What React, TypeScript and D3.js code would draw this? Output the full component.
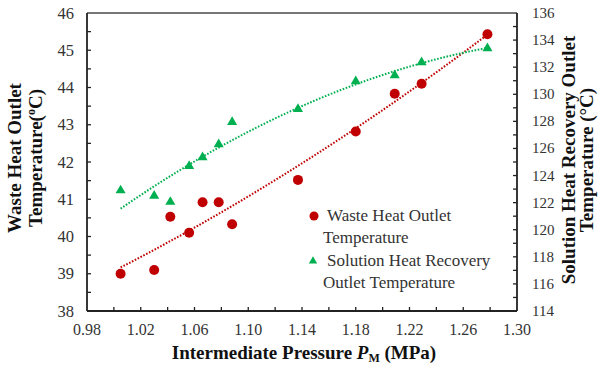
import { useEffect, useRef } from "react";
import * as d3 from "d3";

// intermediate pressure (MPa)
const pressure = [1.005, 1.03, 1.042, 1.056, 1.066, 1.078, 1.088, 1.137, 1.18, 1.209, 1.229, 1.278];
// waste heat outlet temperature (left axis)
const wasteTemp = [39.0, 39.1, 40.53, 40.1, 40.92, 40.92, 40.33, 41.52, 42.82, 43.83, 44.1, 45.43];
// solution heat recovery outlet temperature (right axis)
const solutionTemp = [122.9, 122.5, 122.05, 124.7, 125.35, 126.3, 127.95, 128.9, 130.95, 131.4, 132.35, 133.4];

const xTickLabels = ["0.98", "1.02", "1.06", "1.10", "1.14", "1.18", "1.22", "1.26", "1.30"];
const leftTickLabels = ["38", "39", "40", "41", "42", "43", "44", "45", "46"];
const rightTickLabels = ["114", "116", "118", "120", "122", "124", "126", "128", "130", "132", "134", "136"];

const RED = "#C00000";
const GREEN = "#00B050";
const FONT = "'Liberation Serif', 'Times New Roman', serif";

// least squares 2nd order polynomial, like the spreadsheet trendline
function quadFit(xs: number[], ys: number[]) {
  const mx = d3.mean(xs)!;
  const s = [0, 0, 0, 0, 0];
  const t = [0, 0, 0];
  xs.forEach((x0, i) => {
    const x = x0 - mx;
    for (let k = 0; k < 5; k++) s[k] += Math.pow(x, k);
    for (let k = 0; k < 3; k++) t[k] += Math.pow(x, k) * ys[i];
  });
  const m = [
    [s[0], s[1], s[2], t[0]],
    [s[1], s[2], s[3], t[1]],
    [s[2], s[3], s[4], t[2]],
  ];
  for (let i = 0; i < 3; i++) {
    for (let j = i + 1; j < 3; j++) {
      const f = m[j][i] / m[i][i];
      for (let k = i; k < 4; k++) m[j][k] -= f * m[i][k];
    }
  }
  const c = [0, 0, 0];
  for (let i = 2; i >= 0; i--) {
    let v = m[i][3];
    for (let k = i + 1; k < 3; k++) v -= m[i][k] * c[k];
    c[i] = v / m[i][i];
  }
  return (x: number) => c[0] + c[1] * (x - mx) + c[2] * (x - mx) * (x - mx);
}

export default function App() {
  const ref = useRef<SVGSVGElement>(null);
  const left = 87, right = 517, top = 13, bottom = 311;

  const x = d3.scaleLinear().domain([0.98, 1.3]).range([left, right]);
  const yL = d3.scaleLinear().domain([38, 46]).range([bottom, top]);
  const yR = d3.scaleLinear().domain([114, 136]).range([bottom, top]);

  useEffect(() => {
    const g = d3.select(ref.current).select(".trend");
    const x0 = pressure[0], x1 = pressure[pressure.length - 1];
    const xs = d3.range(0, 101).map((i) => x0 + (i / 100) * (x1 - x0));

    const fW = quadFit(pressure, wasteTemp);
    const fS = quadFit(pressure, solutionTemp);
    const line = d3.line<number[]>().x((d) => d[0]).y((d) => d[1]);

    g.selectAll("*").remove();
    g.append("path")
      .attr("d", line(xs.map((v) => [x(v), yL(fW(v))])))
      .attr("fill", "none").attr("stroke", RED).attr("stroke-width", 2)
      .attr("stroke-dasharray", "1.6 1.6");
    g.append("path")
      .attr("d", line(xs.map((v) => [x(v), yR(fS(v))])))
      .attr("fill", "none").attr("stroke", GREEN).attr("stroke-width", 2)
      .attr("stroke-dasharray", "1.6 1.6");
  }, []);

  const tri = d3.symbol().type(d3.symbolTriangle).size(44);

  return (
    <svg ref={ref} width={602} height={367}
      style={{ position: "absolute", left: 0, top: 0, background: "#fff", fontFamily: FONT }}>
      <g className="trend" />

      {pressure.map((p, i) => (
        <circle key={"w" + i} cx={x(p)} cy={yL(wasteTemp[i])} r={5} fill={RED} />
      ))}
      {pressure.map((p, i) => (
        <path key={"s" + i} d={tri()!} transform={`translate(${x(p)},${yR(solutionTemp[i])})`} fill={GREEN} />
      ))}

      {/* frame */}
      <line x1={left} x2={right} y1={top} y2={top} stroke="#777" strokeWidth={2} />
      <line x1={left} x2={right} y1={bottom} y2={bottom} stroke="#222" strokeWidth={1.8} />
      <line x1={left} x2={left} y1={top} y2={bottom} stroke="#222" strokeWidth={1.8} />
      <line x1={right} x2={right} y1={top} y2={bottom} stroke="#222" strokeWidth={1.8} />

      {/* x ticks */}
      {d3.range(1.0, 1.29, 0.02).map((v) => (
        <line key={"xt" + v} x1={x(v)} x2={x(v)} y1={bottom} y2={bottom - 4} stroke="#222" strokeWidth={1.3} />
      ))}
      {xTickLabels.map((t) => (
        <text key={"xl" + t} x={x(+t)} y={335} textAnchor="middle" fontSize={16} fill="#333">{t}</text>
      ))}

      {/* left ticks */}
      {d3.range(38.5, 46, 0.5).map((v) => (
        <line key={"lt" + v} x1={left} x2={left + 4} y1={yL(v)} y2={yL(v)} stroke="#222" strokeWidth={1.3} />
      ))}
      {leftTickLabels.map((t) => (
        <text key={"ll" + t} x={74} y={yL(+t) + 5.5} textAnchor="end" fontSize={16.5} fill="#333">{t}</text>
      ))}

      {/* right ticks */}
      {d3.range(115, 136, 1).map((v) => (
        <line key={"rt" + v} x1={right} x2={right - 4} y1={yR(v)} y2={yR(v)} stroke="#222" strokeWidth={1.3} />
      ))}
      {rightTickLabels.map((t) => (
        <text key={"rl" + t} x={532} y={yR(+t) + 5} textAnchor="start" fontSize={15} fill="#333">{t}</text>
      ))}

      {/* axis titles */}
      <text transform="translate(21,158) rotate(-90)" textAnchor="middle" fontSize={19} fontWeight="bold" fill="#111">
        <tspan x={0} dy={0}>Waste Heat Outlet</tspan>
        <tspan x={0} dy={21}>Temperature(<tspan fontSize={12} dy={-7}>o</tspan><tspan dy={7}>C)</tspan></tspan>
      </text>
      <text transform="translate(575,160) rotate(-90)" textAnchor="middle" fontSize={19} fontWeight="bold" fill="#111">
        <tspan x={0} dy={0}>Solution Heat Recovery Outlet</tspan>
        <tspan x={0} dy={18}>Temperature (°C)</tspan>
      </text>
      <text x={304} y={359} textAnchor="middle" fontSize={19} fontWeight="bold" fill="#111">
        Intermediate Pressure <tspan fontStyle="italic">P</tspan><tspan fontSize={12} dy={3}>M</tspan><tspan dy={-3}> (MPa)</tspan>
      </text>

      {/* legend */}
      <circle cx={314} cy={216} r={4.5} fill={RED} />
      <text x={327} y={221} fontSize={17} fill="#333">Waste Heat Outlet</text>
      <text x={323} y={243} fontSize={17} fill="#333">Temperature</text>
      <path d={d3.symbol().type(d3.symbolTriangle).size(30)()!} transform="translate(313,261)" fill={GREEN} />
      <text x={327} y={266} fontSize={17} fill="#333">Solution Heat Recovery</text>
      <text x={323} y={288} fontSize={17} fill="#333">Outlet Temperature</text>
    </svg>
  );
}
